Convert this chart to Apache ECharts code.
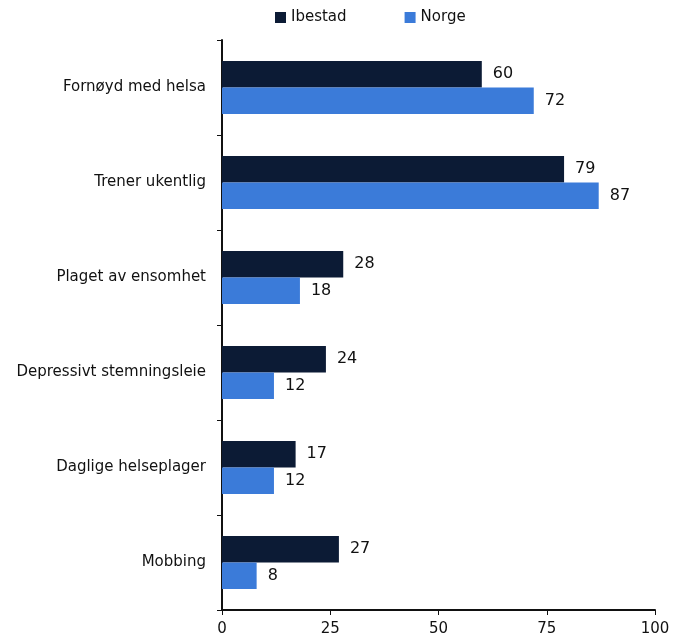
<!DOCTYPE html>
<html>
<head>
<meta charset="utf-8">
<script src="https://cdn.jsdelivr.net/npm/echarts@6/dist/echarts.min.js"></script>
<style>html,body{margin:0;padding:0;background:#fff;}#c{width:675px;height:640px;}</style>
</head>
<body>
<div id="c"></div>
<script>
var categories = ["Fornøyd med helsa", "Trener ukentlig", "Plaget av ensomhet", "Depressivt stemningsleie", "Daglige helseplager", "Mobbing"];
var ibestad = [60, 79, 28, 24, 17, 27];
var norge = [72, 87, 18, 12, 12, 8];
var xTicks = [0, 25, 50, 75, 100];

var font = "DejaVu Sans";
var chart = echarts.init(document.getElementById('c'));
chart.setOption({
  animation: false,
  textStyle: { fontFamily: font },
  legend: {
    top: 5, left: 270, itemGap: 58,
    icon: 'rect', itemWidth: 11, itemHeight: 11,
    textStyle: { fontFamily: font, fontSize: 15, color: '#111' },
    data: ['Ibestad', 'Norge']
  },
  grid: { left: 222, right: 20, top: 40, bottom: 30 },
  xAxis: {
    type: 'value', min: 0, max: 100, interval: 25,
    axisLine: { show: true, lineStyle: { color: '#111', width: 2 } },
    axisTick: { show: true, length: 5, lineStyle: { color: '#111' } },
    splitLine: { show: false },
    axisLabel: { fontFamily: font, fontSize: 15, color: '#111', margin: 12,
      formatter: function (v) { return xTicks.indexOf(v) >= 0 ? String(v) : ''; } }
  },
  yAxis: {
    type: 'category', inverse: true, data: categories,
    axisLine: { show: true, lineStyle: { color: '#111', width: 2 } },
    axisTick: { show: true, length: 5, lineStyle: { color: '#111' } },
    axisLabel: { fontFamily: font, fontSize: 15, color: '#111', margin: 16 }
  },
  series: [
    { name: 'Ibestad', type: 'bar', data: ibestad, barGap: '0%', barCategoryGap: '44%',
      itemStyle: { color: '#0c1b35' },
      label: { show: true, position: 'right', distance: 11, fontFamily: font, fontSize: 16, color: '#111' } },
    { name: 'Norge', type: 'bar', data: norge,
      itemStyle: { color: '#3b7bd9' },
      label: { show: true, position: 'right', distance: 11, fontFamily: font, fontSize: 16, color: '#111' } }
  ]
});
</script>
</body>
</html>
